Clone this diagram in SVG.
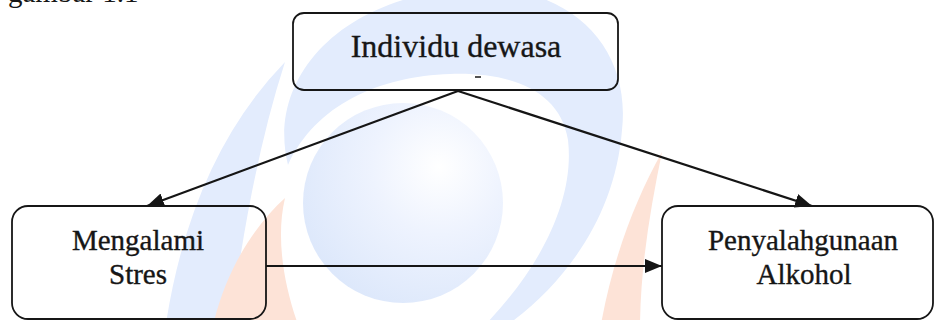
<svg xmlns="http://www.w3.org/2000/svg" width="934" height="320" viewBox="0 0 934 320">
  <defs>
    <radialGradient id="sphereShade" cx="0.68" cy="0.32" r="0.75">
      <stop offset="0" stop-color="#ffffff"/>
      <stop offset="0.45" stop-color="#eef3fe"/>
      <stop offset="1" stop-color="#dde8fb"/>
    </radialGradient>
    <marker id="arrowHead" markerUnits="userSpaceOnUse" markerWidth="18" markerHeight="16" refX="17" refY="8" orient="auto">
      <path d="M0,1 L17,8 L0,15 Z" fill="#151515"/>
    </marker>
    <style>
      .blue { fill: #e3ecfd; }
      .orange { fill: #fde3d7; }
      .box { fill: none; stroke: #161616; stroke-width: 1.8; }
      .link { fill: none; stroke: #151515; stroke-width: 2.2; marker-end: url(#arrowHead); }
      .label { fill: #161616; stroke: #161616; stroke-width: 0.35; text-anchor: middle; }
    </style>
  </defs>

  <rect width="934" height="320" fill="#ffffff"/>

  <!-- background emblem -->
  <g id="emblem">
    <path class="blue" d="M165,330 Q190,160 285,62 Q250,170 230,330 Z"/>
    <path class="blue" d="M288,165 C268,85 330,5 450,-10 C560,-25 632,40 622,130 C615,220 560,290 500,330 L480,330 C540,270 575,200 568,140 C560,90 510,72 450,74 C380,76 315,105 288,165 Z"/>
    <circle cx="403" cy="203" r="100" fill="url(#sphereShade)"/>
    <path class="orange" d="M212,330 C225,270 255,225 285,198 C275,240 285,290 300,330 Z"/>
    <path class="orange" d="M600,330 C612,260 635,200 662,152 C650,210 640,270 640,330 Z"/>
  </g>

  <g font-family="'Liberation Serif', 'Times New Roman', serif">
    <!-- caption line running above the frame -->
    <text x="8" y="1.5" font-size="29" fill="#161616">gambar 1.1</text>

    <!-- connectors -->
    <g id="connectors">
      <line class="link" x1="458" y1="91" x2="147" y2="206"/>
      <line class="link" x1="458" y1="91" x2="812" y2="206"/>
      <line class="link" x1="266" y1="266" x2="662" y2="266"/>
    </g>

    <g id="individu-dewasa">
      <rect class="box" x="293" y="13" width="325" height="77" rx="11"/>
      <text class="label" x="456" y="57" font-size="32">Individu dewasa</text>
      <line x1="475" y1="77" x2="481" y2="77" stroke="#1a1a1a" stroke-width="1.5"/>
    </g>

    <g id="mengalami-stres">
      <rect class="box" x="12" y="206" width="254" height="113" rx="16"/>
      <text class="label" x="138" y="250" font-size="29">Mengalami</text>
      <text class="label" x="138" y="284" font-size="29">Stres</text>
    </g>

    <g id="penyalahgunaan-alkohol">
      <rect class="box" x="662" y="206" width="271" height="113" rx="16"/>
      <text class="label" x="803" y="250" font-size="29">Penyalahgunaan</text>
      <text class="label" x="804" y="284" font-size="29">Alkohol</text>
    </g>
  </g>
</svg>
